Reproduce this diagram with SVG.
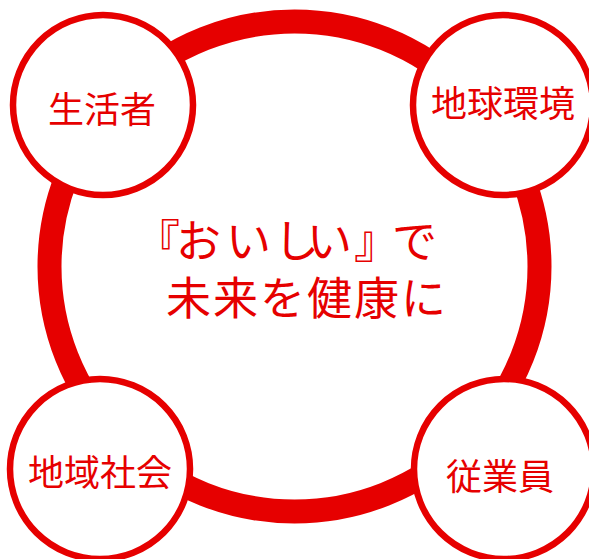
<svg xmlns="http://www.w3.org/2000/svg" width="589" height="559" viewBox="0 0 589 559">
<style>
.ring{fill:none;stroke:#E60000;stroke-width:24}
.node{fill:#fff;stroke:#E60000;stroke-width:6.5}
text{fill:#E60000;font-family:"Noto Sans CJK JP","Noto Sans",sans-serif}
.lbl{font-size:36px;text-anchor:middle}
.main{font-size:45px}
</style>
<g id="connectors">
<circle class="ring" cx="294.5" cy="266.5" r="245"/>
</g>
<g id="center">
<text class="main" x="135 176 226 274 307 354 392" y="258">『おいしい』で</text>
<text class="main" x="166" y="315" letter-spacing="2">未来を健康に</text>
</g>
<g id="n1">
<circle class="node" cx="103" cy="105" r="90"/>
<text class="lbl" x="102" y="123">生活者</text>
</g>
<g id="n2">
<circle class="node" cx="503" cy="105" r="90"/>
<text class="lbl" x="503" y="117">地球環境</text>
</g>
<g id="n3">
<circle class="node" cx="100" cy="469" r="90"/>
<text class="lbl" x="100" y="486">地域社会</text>
</g>
<g id="n4">
<circle class="node" cx="504" cy="469" r="90"/>
<text class="lbl" x="500" y="490">従業員</text>
</g>
</svg>
